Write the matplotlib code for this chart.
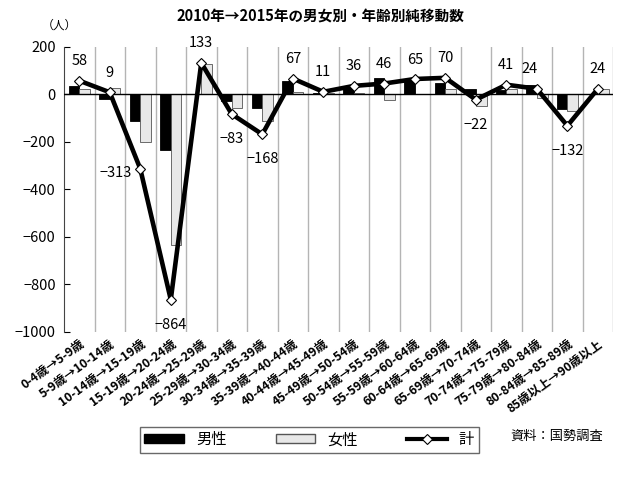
import numpy as np
import matplotlib
matplotlib.use('Agg')
import matplotlib.pyplot as plt
from matplotlib.lines import Line2D
from matplotlib.patches import Patch

plt.rcParams['font.family'] = ['Noto Sans CJK JP', 'DejaVu Sans']

# ---------------------------------------------------------------------------
# Data
# ---------------------------------------------------------------------------
categories = [
    '0-4歳→5-9歳', '5-9歳→10-14歳', '10-14歳→15-19歳', '15-19歳→20-24歳',
    '20-24歳→25-29歳', '25-29歳→30-34歳', '30-34歳→35-39歳', '35-39歳→40-44歳',
    '40-44歳→45-49歳', '45-49歳→50-54歳', '50-54歳→55-59歳', '55-59歳→60-64歳',
    '60-64歳→65-69歳', '65-69歳→70-74歳', '70-74歳→75-79歳', '75-79歳→80-84歳',
    '80-84歳→85-89歳', '85歳以上→90歳以上',
]
male   = [35, -20, -112, -232, 3, -28, -55, 56, 5, 28, 70, 62, 48, 25, 17, 40, -62, 0]
female = [23, 29, -201, -632, 130, -55, -113, 11, 6, 8, -24, 3, 22, -47, 24, -16, -70, 24]
total  = [58, 9, -313, -864, 133, -83, -168, 67, 11, 36, 46, 65, 70, -22, 41, 24, -132, 24]

yticks = [200, 0, -200, -400, -600, -800, -1000]

# ---------------------------------------------------------------------------
# Figure
# ---------------------------------------------------------------------------
fig = plt.figure(figsize=(6.4, 4.79), dpi=100)
ax = fig.add_axes([0.1, 0.307, 0.858, 0.595])

x = np.arange(len(categories))
bw = 0.35

# vertical separators
for b in np.arange(len(categories)) + 0.5:
    ax.axvline(b, color='#b4b4b4', lw=1.0, zorder=0)

ax.bar(x - bw / 2, male, bw, color='black', edgecolor='black', lw=0.6, zorder=2)
ax.bar(x + bw / 2, female, bw, color='#e8e8e8', edgecolor='#555555', lw=0.6, zorder=2)
ax.axhline(0, color='black', lw=1.0, zorder=3)

ax.plot(x, total, color='black', lw=3.3, marker='D', ms=5,
        mfc='white', mec='black', mew=0.8, zorder=4)

# value labels: above positives, below negatives
special = {2: (-18, -3), 15: (-5, 14)}
for i, v in enumerate(total):
    dx, dy = special.get(i, (0, 14 if v >= 0 else -18))
    ax.annotate(str(v).replace('-', '−'), (x[i], v), xytext=(dx, dy),
                textcoords='offset points', ha='center', va='center',
                fontsize=10.5)

ax.set_xlim(-0.5, len(categories) - 0.5)
ax.set_ylim(-1000, 200)
ax.set_yticks(yticks)
ax.set_yticklabels([str(t).replace('-', '−') for t in yticks], fontsize=10.5)
ax.tick_params(axis='y', direction='in', length=4, pad=6)
ax.tick_params(axis='x', length=0)
for s in ['top', 'right', 'bottom']:
    ax.spines[s].set_visible(False)
ax.spines['left'].set_color('#444444')

ax.set_xticks(x)
ax.set_xticklabels(categories, rotation=36, ha='right', rotation_mode='anchor',
                   fontsize=8.8, fontweight='bold')
for lab in ax.get_xticklabels():
    lab.set_x(lab.get_position()[0])
ax.tick_params(axis='x', pad=4)

fig.text(0.5, 0.965, '2010年→2015年の男女別・年齢別純移動数',
         ha='center', va='center', fontsize=10.5, fontweight='bold')
fig.text(0.093, 0.948, '（人）', ha='center', va='center', fontsize=8.5)

handles = [
    Patch(facecolor='black', edgecolor='black'),
    Patch(facecolor='#e8e8e8', edgecolor='#555555'),
    Line2D([], [], color='black', lw=3, marker='D', ms=5,
           mfc='white', mec='black', mew=0.8),
]
leg = fig.legend(handles, ['男性', '女性', '計'], ncol=3, loc='center',
                 bbox_to_anchor=(0.483, 0.082), fontsize=11, frameon=True,
                 fancybox=False, edgecolor='#444444', handlelength=2.6,
                 handleheight=0.5, columnspacing=3.2, borderpad=0.3)
leg.get_frame().set_linewidth(1.0)

fig.text(0.87, 0.088, '資料：国勢調査', ha='center', va='center', fontsize=9.5)

fig.savefig('out.png', dpi=100)
